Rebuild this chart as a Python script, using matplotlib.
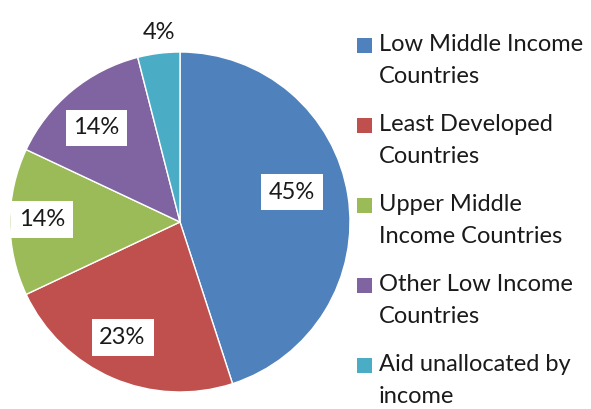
import numpy as np
import matplotlib
matplotlib.use("Agg")
import matplotlib.pyplot as plt
from matplotlib.patches import Rectangle

plt.rcParams['font.family'] = ['Lato', 'DejaVu Sans']

# data
categories = ["Low Middle Income\nCountries", "Least Developed\nCountries",
              "Upper Middle\nIncome Countries", "Other Low Income\nCountries",
              "Aid unallocated by\nincome"]
shares = [45, 23, 14, 14, 4]
colors = ["#4F81BD", "#C0504D", "#9BBB59", "#8064A2", "#4BACC6"]
# how far out each label sits (fraction of radius) and extra angle shift
label_dist = [0.68, 0.76, 0.81, 0.74, 1.12]
label_shift = [6, -3, -1, 2, -1]
boxed = [True, True, True, True, False]

fig = plt.figure(figsize=(5.91, 4.09), dpi=100)
ax = fig.add_axes([10/591, 17/409, 340/591, 340/409])

wedges, _ = ax.pie(shares, colors=colors, startangle=90, counterclock=False,
                   radius=1.0, wedgeprops=dict(edgecolor='white', linewidth=1.0))
ax.set_xlim(-1, 1)
ax.set_ylim(-1, 1)
ax.set_aspect('equal')
ax.axis('off')

for w, s, d, sh, b in zip(wedges, shares, label_dist, label_shift, boxed):
    ang = np.deg2rad((w.theta1 + w.theta2) / 2 + sh)
    x, y = d * np.cos(ang), d * np.sin(ang)
    kw = {}
    if b:
        kw['bbox'] = dict(boxstyle='square,pad=0.33', fc='white', ec='none')
    ax.text(x, y, f"{s}%", ha='center', va='center', fontsize=17,
            color='#1a1a1a', **kw)

# legend drawn by hand
for i, (c, lab) in enumerate(zip(colors, categories)):
    ytop = 1 - (38 + i * 80) / 409
    fig.patches.append(Rectangle((357/591, ytop - 15/409), 15/591, 15/409,
                                 transform=fig.transFigure, fc=c, ec='none'))
    fig.text(379/591, ytop + 4/409, lab, ha='left', va='top', fontsize=17,
             color='#1a1a1a', linespacing=1.62)

fig.savefig("out.png", dpi=100)
